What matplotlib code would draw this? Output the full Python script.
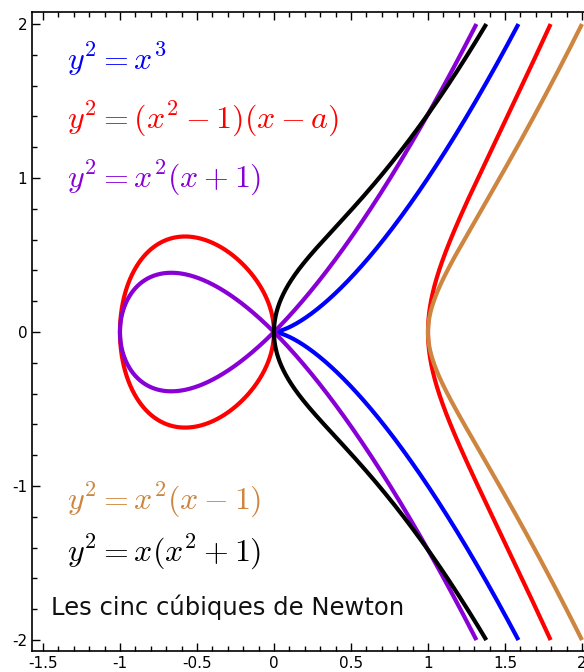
import numpy as np
import matplotlib.pyplot as plt
from matplotlib.ticker import MultipleLocator

# Les cinc cúbiques de Newton: y^2 = f(x)
a = 0.0
labels = [r'$y^2 = x^3$',
          r'$y^2 = (x^2-1)(x-a)$',
          r'$y^2 = x^2(x+1)$',
          r'$y^2 = x^2(x-1)$',
          r'$y^2 = x(x^2+1)$']
colors = ['#0000ff', '#ff0000', '#8800d6', '#cd853f', '#000000']
cubics = [lambda x: x**3,
          lambda x: (x**2 - 1) * (x - a),
          lambda x: x**2 * (x + 1),
          lambda x: x**2 * (x - 1),
          lambda x: x * (x**2 + 1)]
# branches (x intervals where f(x) >= 0) for each curve, cut at |y| = 2
branches = [[(0.0, 1.5874)],
            [(-1.0, 0.0), (1.0, 1.7963)],
            [(-1.0, 0.0), (0.0, 1.3146)],
            [(1.0, 2.0)],
            [(0.0, 1.3788)]]
draw_order = [0, 1, 2, 3, 4]

plt.rcParams['mathtext.fontset'] = 'cm'

fig = plt.figure(figsize=(5.84, 6.72), dpi=100)
ax = fig.add_axes([32 / 584, 21 / 672, 552 / 584, 639 / 672])

for i in draw_order:
    f = cubics[i]
    for x0, x1 in branches[i]:
        t = np.linspace(0, np.pi, 2000)
        x = x0 + (x1 - x0) * (1 - np.cos(t)) / 2
        y = np.sqrt(np.clip(f(x), 0, None))
        xs = np.concatenate([x[::-1], x])
        ys = np.concatenate([y[::-1], -y])
        ax.plot(xs, ys, color=colors[i], lw=3, solid_capstyle='butt')

# equations
text_y = [1.77, 1.38, 1.0, -1.095, -1.43]
for lab, c, ty in zip(labels, colors, text_y):
    ax.text(-1.345, ty, lab, color=c, fontsize=23, va='center', ha='left')

ax.text(-1.448, -1.79, 'Les cinc cúbiques de Newton', fontsize=17.5,
        va='center', ha='left', color='#111111')

ax.set_xlim(-1.571, 2.013)
ax.set_ylim(-2.071, 2.078)

ax.xaxis.set_minor_locator(MultipleLocator(0.1))
ax.yaxis.set_minor_locator(MultipleLocator(0.2))
ax.set_xticks([-1.5, -1, -0.5, 0, 0.5, 1, 1.5, 2])
ax.set_xticklabels(['-1.5', '-1', '-0.5', '0', '0.5', '1', '1.5', '2'])
ax.set_yticks([-2, -1, 0, 1, 2])
ax.set_yticklabels(['-2', '-1', '0', '1', '2'])

ax.tick_params(which='both', direction='in', top=True, right=False,
               labelsize=11, width=1)
ax.tick_params(which='major', length=6)
ax.tick_params(which='minor', length=3.5)
ax.spines['right'].set_visible(False)
for s in ['left', 'bottom', 'top']:
    ax.spines[s].set_linewidth(1.2)

fig.savefig('out.png', dpi=100)
